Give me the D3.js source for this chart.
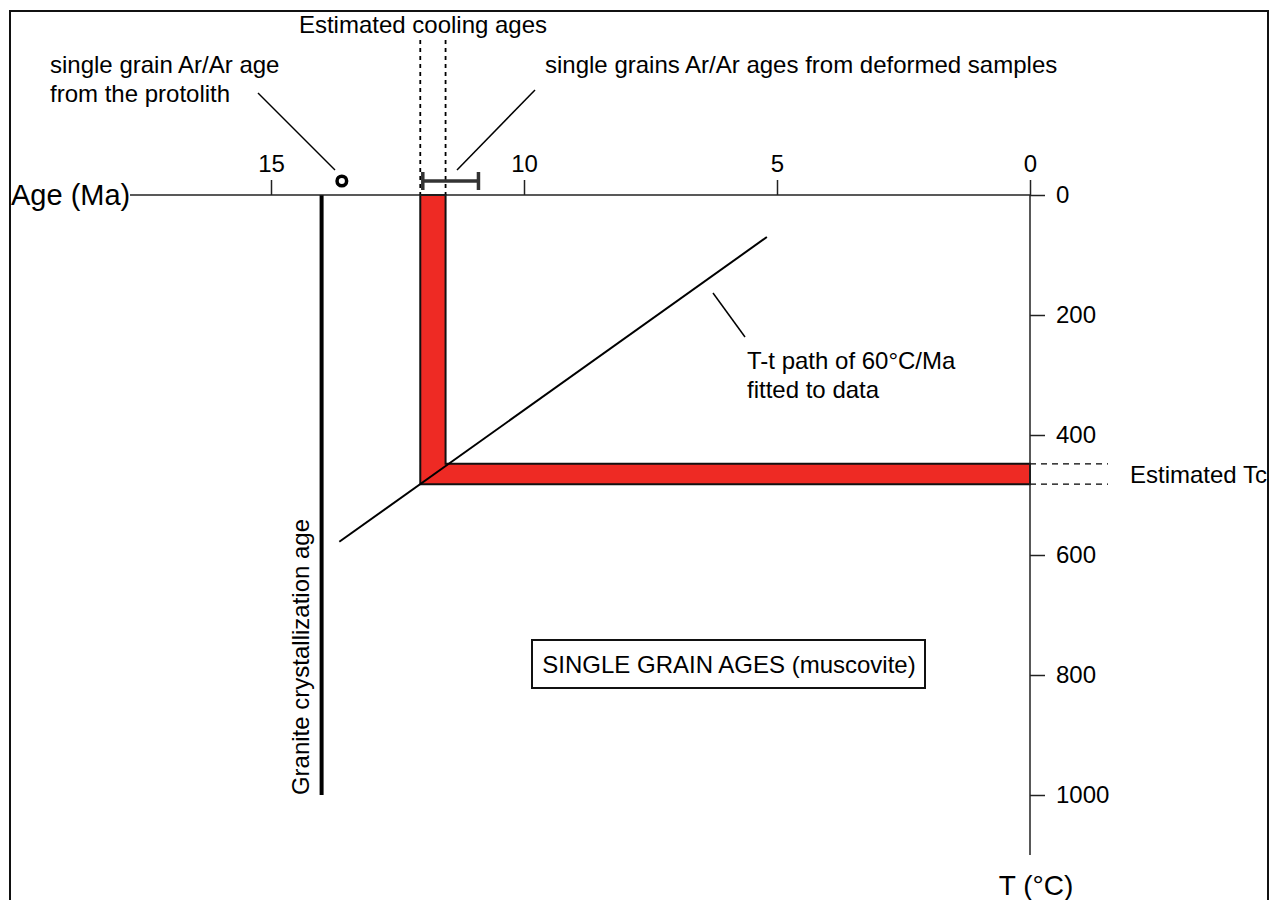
<!DOCTYPE html>
<html><head><meta charset="utf-8">
<script src="https://cdn.jsdelivr.net/npm/d3@7"></script>
<style>body{margin:0;background:#fff}svg{font-family:Arial,"Liberation Sans",sans-serif}</style>
</head><body><svg id="c" width="1273" height="900"></svg>
<script>
// ---- data ----
const ageTicks = [15, 10, 5, 0];
const tempTicks = [0, 200, 400, 600, 800, 1000];
const coolingAges = [12.05, 11.55];          // estimated cooling ages (Ma)
const estimatedTc = [448, 482];              // estimated closure temperature (°C)
const deformedAgeRange = [12.0, 10.9];       // single grains Ar/Ar ages from deformed samples
const protolithAge = [13.6];                 // single grain Ar/Ar age from protolith
const graniteAge = [14.0];                   // granite crystallization age
const ttPathAges = [13.65, 5.2];
const ttPathTemps = [578, 70];

const FS = 24;
const svg = d3.select("#c");
const x = d3.scaleLinear().domain([0, 15]).range([1030, 271]);
const y = d3.scaleLinear().domain([0, 1000]).range([195, 795]);
const red = "#ee2a24";

// frame
svg.append("rect").attr("x", 10).attr("y", 11).attr("width", 1258).attr("height", 900)
  .attr("fill", "none").attr("stroke", "#111").attr("stroke-width", 2);

// red L band (cooling ages + Tc)
const band = d3.path();
band.moveTo(x(coolingAges[0]), y(0));
band.lineTo(x(coolingAges[1]), y(0));
band.lineTo(x(coolingAges[1]), y(estimatedTc[0]));
band.lineTo(x(0), y(estimatedTc[0]));
band.lineTo(x(0), y(estimatedTc[1]));
band.lineTo(x(coolingAges[0]), y(estimatedTc[1]));
band.closePath();
svg.append("path").attr("d", band.toString()).attr("fill", red).attr("stroke", "#111").attr("stroke-width", 2);

// T-t path
svg.append("line").attr("x1", x(ttPathAges[0])).attr("y1", y(ttPathTemps[0]))
  .attr("x2", x(ttPathAges[1])).attr("y2", y(ttPathTemps[1])).attr("stroke", "#000").attr("stroke-width", 2);

// granite crystallization
svg.append("line").attr("x1", x(graniteAge[0])).attr("x2", x(graniteAge[0]))
  .attr("y1", y(0)).attr("y2", y(1000)).attr("stroke", "#000").attr("stroke-width", 4);
svg.append("text").attr("transform", `translate(${x(graniteAge[0]) - 13},657) rotate(-90)`)
  .attr("text-anchor", "middle").attr("font-size", FS).text("Granite crystallization age");

// cooling ages dashed lines
coolingAges.forEach(a => {
  svg.append("line").attr("x1", x(a)).attr("x2", x(a)).attr("y1", 40).attr("y2", y(0))
    .attr("stroke", "#000").attr("stroke-width", 1.8).attr("stroke-dasharray", "4,4");
});
svg.append("text").attr("x", 423).attr("y", 33).attr("text-anchor", "middle").attr("font-size", FS)
  .text("Estimated cooling ages");

// Tc dashed lines
estimatedTc.forEach(t => {
  svg.append("line").attr("x1", x(0)).attr("x2", 1108).attr("y1", y(t)).attr("y2", y(t))
    .attr("stroke", "#000").attr("stroke-width", 1.2).attr("stroke-dasharray", "6,5");
});
svg.append("text").attr("x", 1130).attr("y", y((estimatedTc[0] + estimatedTc[1]) / 2) + 9)
  .attr("font-size", FS).text("Estimated Tc");

// protolith circle
svg.append("circle").attr("cx", x(protolithAge[0])).attr("cy", 181).attr("r", 4.8)
  .attr("fill", "#fff").attr("stroke", "#000").attr("stroke-width", 3.5);
// deformed samples error bar
svg.append("line").attr("x1", x(deformedAgeRange[0])).attr("x2", x(deformedAgeRange[1]))
  .attr("y1", 181).attr("y2", 181).attr("stroke", "#333").attr("stroke-width", 3.5);
deformedAgeRange.forEach(a => {
  svg.append("line").attr("x1", x(a)).attr("x2", x(a)).attr("y1", 172).attr("y2", 190)
    .attr("stroke", "#333").attr("stroke-width", 3.5);
});

// annotations
const ann = svg.append("g").attr("font-size", FS);
ann.append("text").attr("x", 50).attr("y", 73).text("single grain Ar/Ar age");
ann.append("text").attr("x", 50).attr("y", 102).text("from the protolith");
ann.append("text").attr("x", 545).attr("y", 73).text("single grains Ar/Ar ages from deformed samples");
ann.append("text").attr("x", 747).attr("y", 369).text("T-t path of 60°C/Ma");
ann.append("text").attr("x", 747).attr("y", 398).text("fitted to data");
const leaders = [[258, 93, 335, 170], [535, 90, 457, 170], [713, 293, 745, 337]];
leaders.forEach(l => svg.append("line").attr("x1", l[0]).attr("y1", l[1]).attr("x2", l[2]).attr("y2", l[3])
  .attr("stroke", "#000").attr("stroke-width", 1.5));

// box
svg.append("rect").attr("x", 532).attr("y", 640).attr("width", 393).attr("height", 48)
  .attr("fill", "#fff").attr("stroke", "#111").attr("stroke-width", 2);
svg.append("text").attr("x", 729).attr("y", 673).attr("text-anchor", "middle").attr("font-size", FS)
  .text("SINGLE GRAIN AGES (muscovite)");

// x axis (age, top)
svg.append("line").attr("x1", 130).attr("x2", x(0)).attr("y1", y(0)).attr("y2", y(0))
  .attr("stroke", "#222").attr("stroke-width", 1.5);
const xAxis = svg.append("g").attr("transform", `translate(0,${y(0)})`)
  .call(d3.axisTop(x).tickValues(ageTicks).tickSize(15).tickPadding(8).tickFormat(d3.format("d")));
xAxis.select(".domain").remove();
xAxis.selectAll("line").attr("stroke", "#222").attr("stroke-width", 1.5);
xAxis.selectAll("text").attr("font-size", FS).attr("font-family", "Arial,'Liberation Sans',sans-serif")
  .attr("fill", "#000");
svg.append("text").attr("x", 11).attr("y", y(0) + 10).attr("font-size", 29).text("Age (Ma)");

// y axis (temperature, right)
svg.append("line").attr("x1", x(0)).attr("x2", x(0)).attr("y1", y(0)).attr("y2", y(1100))
  .attr("stroke", "#222").attr("stroke-width", 1.5);
const yAxis = svg.append("g").attr("transform", `translate(${x(0)},0)`)
  .call(d3.axisRight(y).tickValues(tempTicks).tickSize(15).tickPadding(11).tickFormat(d3.format("d")));
yAxis.select(".domain").remove();
yAxis.selectAll("line").attr("stroke", "#222").attr("stroke-width", 1.5);
yAxis.selectAll("text").attr("font-size", FS).attr("font-family", "Arial,'Liberation Sans',sans-serif").attr("fill", "#000");
svg.append("text").attr("x", 1036).attr("y", 895).attr("text-anchor", "middle").attr("font-size", 28).text("T (°C)");
</script></body></html>
